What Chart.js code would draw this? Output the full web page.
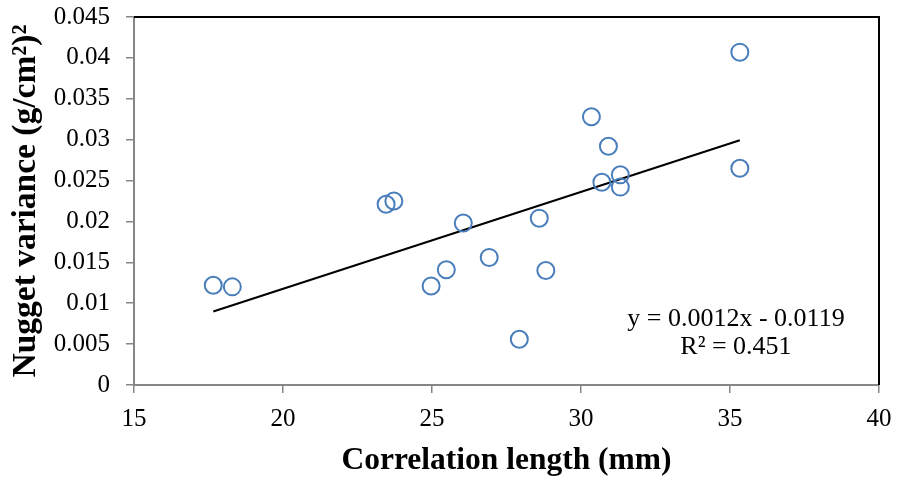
<!DOCTYPE html>
<html>
<head>
<meta charset="utf-8">
<script src="https://cdn.jsdelivr.net/npm/chart.js@4.4.0/dist/chart.umd.min.js"></script>
<style>
html,body{margin:0;padding:0;background:#fff;}
#wrap{width:897px;height:480px;}
</style>
</head>
<body>
<div id="wrap"><canvas id="c" width="897" height="480"></canvas></div>
<script>
const correlationLength = [17.66, 18.30, 23.46, 23.72, 24.97, 25.48, 26.05, 26.92, 27.93, 28.60, 28.82, 30.35, 30.70, 30.92, 31.32, 31.32, 35.33, 35.33];
const nuggetVariance   = [0.0122, 0.0120, 0.0221, 0.0225, 0.0121, 0.0141, 0.0198, 0.0156, 0.0056, 0.0204, 0.0140, 0.0328, 0.0248, 0.0292, 0.0257, 0.0242, 0.0407, 0.0265];
const xTicks = [15, 20, 25, 30, 35, 40];
const yTicks = [0, 0.005, 0.01, 0.015, 0.02, 0.025, 0.03, 0.035, 0.04, 0.045];
const equationText = 'y = 0.0012x - 0.0119';
const r2Text = 'R² = 0.451';
const xTitle = 'Correlation length (mm)';
const yTitle = 'Nugget variance (g/cm²)²';

// least-squares trendline from the data
const n = correlationLength.length;
let sx=0, sy=0, sxx=0, sxy=0;
for (let i=0;i<n;i++){ sx+=correlationLength[i]; sy+=nuggetVariance[i]; sxx+=correlationLength[i]**2; sxy+=correlationLength[i]*nuggetVariance[i]; }
const slope = (n*sxy - sx*sy)/(n*sxx - sx*sx);
const intercept = (sy - slope*sx)/n;
const xMin = Math.min(...correlationLength), xMax = Math.max(...correlationLength);
const trend = [{x:xMin, y:slope*xMin+intercept},{x:xMax, y:slope*xMax+intercept}];

const points = correlationLength.map((x,i)=>({x, y:nuggetVariance[i]}));

const serif = "'Liberation Serif', 'Times New Roman', serif";

const overlay = {
  id: 'overlay',
  afterDraw(chart){
    const {ctx, chartArea:a, scales} = chart;
    ctx.save();
    ctx.strokeStyle = '#000';
    ctx.lineWidth = 2;
    ctx.beginPath();
    ctx.moveTo(a.left, a.top); ctx.lineTo(a.right, a.top); ctx.lineTo(a.right, a.bottom);
    ctx.stroke();
    ctx.fillStyle = '#000';
    ctx.font = "26px " + serif;
    ctx.textAlign = 'center';
    ctx.textBaseline = 'middle';
    const cx = scales.x.getPixelForValue(35.2);
    ctx.fillText(equationText, cx, scales.y.getPixelForValue(0.0081));
    ctx.fillText(r2Text, cx, scales.y.getPixelForValue(0.0046));
    ctx.restore();
  }
};

new Chart(document.getElementById('c'), {
  type: 'scatter',
  data: {
    datasets: [
      { type:'scatter', data: points, pointStyle:'circle', pointRadius: 8.5, pointHoverRadius: 8.5,
        pointBorderWidth: 2, borderColor:'#4A7EBB', backgroundColor:'rgba(0,0,0,0)', order: 1 },
      { type:'line', data: trend, borderColor:'#000', borderWidth: 2, pointRadius: 0, fill:false, order: 2 }
    ]
  },
  options: {
    responsive: false,
    animation: false,
    devicePixelRatio: 1,
    layout: { padding: { left: 0, right: 18, top: 17, bottom: 0 } },
    plugins: { legend: { display: false }, tooltip: { enabled: false } },
    scales: {
      x: {
        type: 'linear', min: 15, max: 40,
        afterBuildTicks: s => { s.ticks = xTicks.map(v=>({value:v})); },
        afterFit: s => { s.height = 95; s.paddingLeft = 0; s.paddingRight = 0; },
        grid: { drawOnChartArea: false, drawTicks: true, tickLength: 8, color: '#868686', lineWidth: 1.5 },
        border: { display: true, color: '#868686', width: 2 },
        ticks: { color:'#000', font: { family: serif, size: 25 }, padding: 11, maxRotation: 0 },
        title: { display: true, text: xTitle, color:'#000', font: { family: serif, size: 31.5, weight: 'bold' }, padding: { top: 2, bottom: 0 } }
      },
      y: {
        type: 'linear', min: 0, max: 0.045,
        afterBuildTicks: s => { s.ticks = yTicks.map(v=>({value:v})); },
        afterFit: s => { s.width = 134; s.paddingTop = 0; s.paddingBottom = 0; },
        grid: { drawOnChartArea: false, drawTicks: true, tickLength: 8, color: '#868686', lineWidth: 1.5 },
        border: { display: true, color: '#868686', width: 2 },
        ticks: { color:'#000', font: { family: serif, size: 25 }, padding: 16,
          callback: v => String(Number(v.toFixed(3))) },
        title: { display: true, text: yTitle, color:'#000', font: { family: serif, size: 33.5, weight: 'bold' }, padding: { top: 6, bottom: 0 } }
      }
    }
  },
  plugins: [overlay]
});
</script>
</body>
</html>
